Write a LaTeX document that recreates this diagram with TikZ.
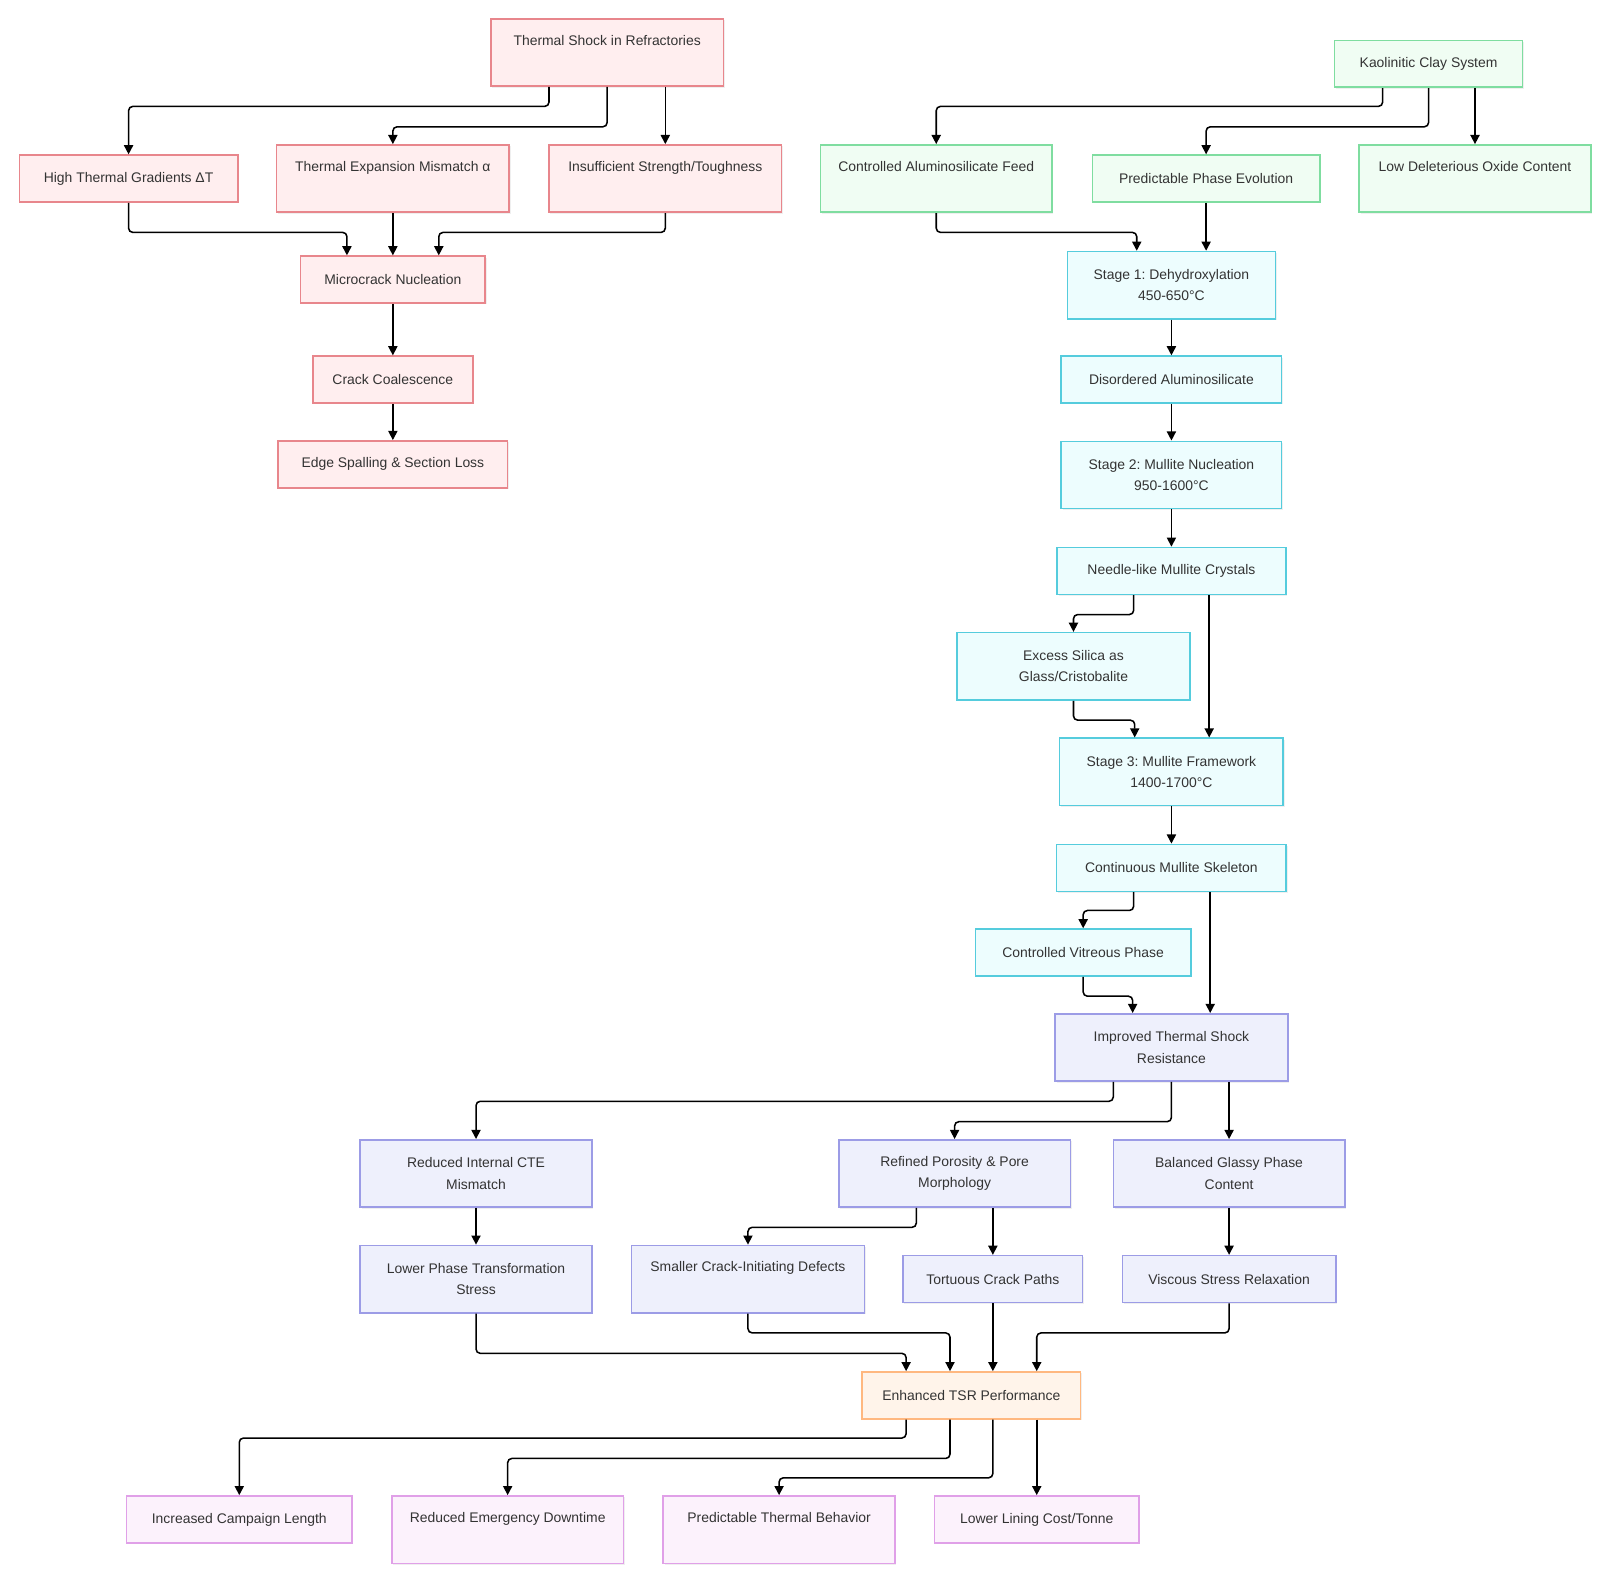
\documentclass[tikz,border=0pt]{standalone}
\usepackage{fontspec}
\setmainfont{Liberation Sans}
\usepackage{tikz}
\usetikzlibrary{arrows.meta, positioning, calc, shadows}
\definecolor{redfill}{HTML}{FFEEEF}
\definecolor{redline}{HTML}{E8868C}
\definecolor{greenfill}{HTML}{F0FDF3}
\definecolor{greenline}{HTML}{7FDDA0}
\definecolor{cyanfill}{HTML}{EDFDFE}
\definecolor{cyanline}{HTML}{55CCDD}
\definecolor{bluefill}{HTML}{EEF0FC}
\definecolor{blueline}{HTML}{9C9CE6}
\definecolor{orangefill}{HTML}{FFF4EA}
\definecolor{orangeline}{HTML}{FFB880}
\definecolor{pinkfill}{HTML}{FCF2FC}
\definecolor{pinkline}{HTML}{E0A0E8}
\definecolor{txt}{HTML}{333333}
\frenchspacing

\begin{document}
\begin{tikzpicture}[
  x=0.0255cm, y=-0.0255cm,
  box/.style={rectangle, line width=1.1pt, align=center, inner sep=2pt, text=txt,
    font=\fontsize{9.9}{15.2}\selectfont,
    drop shadow={opacity=0.12, shadow xshift=1pt, shadow yshift=-1pt}},
  bw/.style={minimum width=#1*0.0255cm},
  row1/.style={minimum height=46*0.0255cm},
  row2/.style={minimum height=66*0.0255cm},
  topline/.style={row2, text depth=0.62cm},
  redbox/.style={box, draw=redline, fill=redfill},
  greenbox/.style={box, draw=greenline, fill=greenfill},
  cyanbox/.style={box, draw=cyanline, fill=cyanfill},
  bluebox/.style={box, draw=blueline, fill=bluefill},
  orangebox/.style={box, draw=orangeline, fill=orangefill},
  pinkbox/.style={box, draw=pinkline, fill=pinkfill},
  arr/.style={-{Triangle[length=6.5pt,width=6.5pt]}, line width=1.1pt, rounded corners=3pt}
]
\path[use as bounding box, fill=white] (0,0) rectangle (1568,1539.6);

\node[redbox, bw=228, topline] (shock) at (595,51.5) {Thermal Shock in Refractories};
\node[redbox, bw=214, row1] (high) at (126,175) {High Thermal Gradients ΔT};
\node[redbox, bw=228, topline] (texp) at (385,175) {Thermal Expansion Mismatch α};
\node[redbox, bw=228, topline] (insuf) at (652,175) {Insufficient Strength/Toughness};
\node[redbox, bw=181, row1] (micro) at (385,274) {Microcrack Nucleation};
\node[redbox, bw=157, row1] (coal) at (385,372) {Crack Coalescence};
\node[redbox, bw=225, row1] (spall) at (385,455) {Edge Spalling \& Section Loss};

\node[greenbox, bw=184, row1] (kao) at (1400,62.5) {Kaolinitic Clay System};
\node[greenbox, bw=227, topline] (feed) at (917.5,175) {Controlled Aluminosilicate Feed};
\node[greenbox, bw=223, row1] (pred) at (1182,175) {Predictable Phase Evolution};
\node[greenbox, bw=227, topline] (low) at (1445.5,175) {Low Deleterious Oxide Content};

\node[cyanbox, bw=204, row2] (st1) at (1148,279.5) {Stage 1: Dehydroxylation\\450-650°C};
\node[cyanbox, bw=216, row1] (disord) at (1148,372) {Disordered Aluminosilicate};
\node[cyanbox, bw=216, row2] (st2) at (1148,465.5) {Stage 2: Mullite Nucleation\\950-1600°C};
\node[cyanbox, bw=224, row1] (needle) at (1148,559.5) {Needle-like Mullite Crystals};
\node[cyanbox, bw=228, row2] (silica) at (1052,653) {Excess Silica as\\Glass/Cristobalite};
\node[cyanbox, bw=219, row2] (st3) at (1148,756.5) {Stage 3: Mullite Framework\\1400-1700°C};
\node[cyanbox, bw=225, row1] (skel) at (1148,850.5) {Continuous Mullite Skeleton};
\node[cyanbox, bw=211, row1] (vitr) at (1061.5,933.5) {Controlled Vitreous Phase};

\node[bluebox, bw=228, row2] (impr) at (1148,1026.5) {Improved Thermal Shock\\Resistance};
\node[bluebox, bw=227, row2] (cte) at (466.5,1150) {Reduced Internal CTE\\Mismatch};
\node[bluebox, bw=227, row2] (poro) at (935.5,1150) {Refined Porosity \& Pore\\Morphology};
\node[bluebox, bw=227, row2] (glassy) at (1204.5,1150) {Balanced Glassy Phase\\Content};
\node[bluebox, bw=227, row2] (lower) at (466.5,1253.5) {Lower Phase Transformation\\Stress};
\node[bluebox, bw=228, topline] (smaller) at (733,1253.5) {Smaller Crack-Initiating Defects};
\node[bluebox, bw=176, row1] (tort) at (973,1253.5) {Tortuous Crack Paths};
\node[bluebox, bw=209, row1] (visc) at (1204.5,1253.5) {Viscous Stress Relaxation};

\node[orangebox, bw=214, row1] (tsr) at (952,1367.5) {Enhanced TSR Performance};

\node[pinkbox, bw=221, row1] (camp) at (234.5,1489) {Increased Campaign Length};
\node[pinkbox, bw=227, topline] (down) at (497.5,1499) {Reduced Emergency Downtime};
\node[pinkbox, bw=227, topline] (behav) at (763.5,1499) {Predictable Thermal Behavior};
\node[pinkbox, bw=200, row1] (cost) at (1016,1489) {Lower Lining Cost/Tonne};

\draw[arr] ($(shock.south)+(-57,0)$) -- ++(0,19) -| (high);
\draw[arr] (shock.south) -- ++(0,39) -| (texp);
\draw[arr] (insuf.north |- shock.south) -- (insuf.north);
\draw[arr] (high.south) -- ++(0,29) -| ($(micro.north)+(-45,0)$);
\draw[arr] (texp.south) -- (micro.north);
\draw[arr] (insuf.south) -- ++(0,19) -| ($(micro.north)+(45,0)$);
\draw[arr] (micro) -- (coal);
\draw[arr] (coal) -- (spall);

\draw[arr] ($(kao.south)+(-45,0)$) -- ++(0,18) -| (feed);
\draw[arr] (kao.south) -- ++(0,38) -| (pred);
\draw[arr] (low.north |- kao.south) -- (low.north);
\draw[arr] (feed.south) -- ++(0,19) -| ($(st1.north)+(-34,0)$);
\draw[arr] (pred.south) -- (pred.south |- st1.north);

\draw[arr] (st1) -- (disord);
\draw[arr] (disord) -- (st2);
\draw[arr] (st2) -- (needle);
\draw[arr] ($(needle.south)+(-37,0)$) -- ++(0,19) -| (silica);
\draw[arr] ($(needle.south)+(37,0)$) -- ($(st3.north)+(37,0)$);
\draw[arr] (silica.south) -- ++(0,19) -| ($(st3.north)+(-36,0)$);
\draw[arr] (st3) -- (skel);
\draw[arr] ($(skel.south)+(-37,0)$) -- ++(0,18) -| (vitr);
\draw[arr] ($(skel.south)+(38,0)$) -- ($(impr.north)+(38,0)$);
\draw[arr] (vitr.south) -- ++(0,19) -| ($(impr.north)+(-38,0)$);

\draw[arr] ($(impr.south)+(-57,0)$) -- ++(0,19) -| (cte);
\draw[arr] (impr.south) -- ++(0,39) -| (poro);
\draw[arr] (glassy.north |- impr.south) -- (glassy.north);
\draw[arr] (cte) -- (lower);
\draw[arr] ($(poro.south)+(-37.5,0)$) -- ++(0,19) -| (smaller);
\draw[arr] (tort.north |- poro.south) -- (tort.north);
\draw[arr] (glassy) -- (visc);
\draw[arr] (lower.south) -- ++(0,39) -| ($(tsr.north)+(-64,0)$);
\draw[arr] (smaller.south) -- ++(0,19) -| ($(tsr.north)+(-21,0)$);
\draw[arr] (tort.south) -- (tort.south |- tsr.north);
\draw[arr] (visc.south) -- ++(0,29) -| ($(tsr.north)+(64,0)$);

\draw[arr] ($(tsr.south)+(-64,0)$) -- ++(0,18) -| (camp);
\draw[arr] ($(tsr.south)+(-21,0)$) -- ++(0,38) -| (down);
\draw[arr] ($(tsr.south)+(21,0)$) -- ++(0,57) -| (behav);
\draw[arr] (cost.north |- tsr.south) -- (cost.north);
\end{tikzpicture}
\end{document}
